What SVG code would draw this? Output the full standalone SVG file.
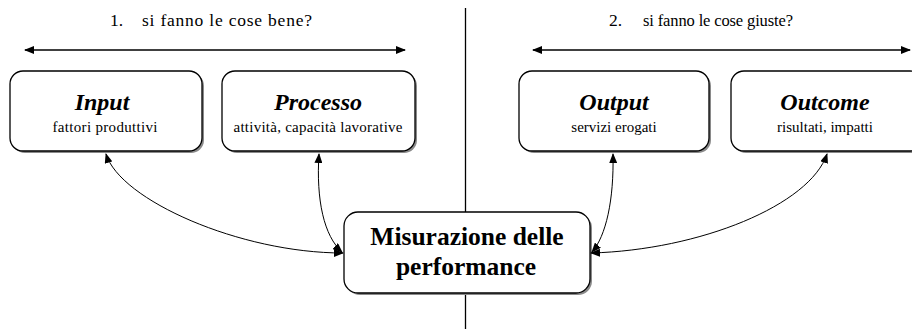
<svg xmlns="http://www.w3.org/2000/svg" width="912" height="329" viewBox="0 0 912 329">
<defs>
<style>
.box{fill:#fff;stroke:#000;stroke-width:1.3}
.shadow{fill:#8a8a8a}
.ttl{font-family:"Liberation Serif",serif;font-size:17.5px;fill:#000}
.head{font-family:"Liberation Serif",serif;font-size:24px;font-weight:bold;font-style:italic;text-anchor:middle;fill:#000}
.sub{font-family:"Liberation Serif",serif;font-size:15px;text-anchor:middle;fill:#000}
.main{font-family:"Liberation Serif",serif;font-size:25.5px;font-weight:bold;text-anchor:middle;fill:#000}
.conn{fill:none;stroke:#000;stroke-width:1}
.bar{fill:none;stroke:#000;stroke-width:1.3}
</style>
<marker id="ah" viewBox="0 0 10 8" refX="9" refY="4" markerWidth="10" markerHeight="8" markerUnits="userSpaceOnUse" orient="auto-start-reverse">
<path d="M0,0 L10,4 L0,8 Z" fill="#000"/>
</marker>
</defs>
<rect width="912" height="329" fill="#fff"/>
<g id="divider">
<line x1="465.5" y1="8" x2="465.5" y2="329" stroke="#000" stroke-width="1.3"/>
</g>
<g id="titles">
<text class="ttl" x="110" y="26">1.</text>
<text class="ttl" x="142" y="26" textLength="170">si fanno le cose bene?</text>
<text class="ttl" x="609" y="26">2.</text>
<text class="ttl" x="643" y="26" style="font-size:16.5px" textLength="150">si fanno le cose giuste?</text>
</g>
<g id="ranges">
<line class="bar" x1="25" y1="50" x2="405" y2="50" marker-start="url(#ah)" marker-end="url(#ah)"/>
<line class="bar" x1="533" y1="50" x2="910" y2="50" marker-start="url(#ah)" marker-end="url(#ah)"/>
</g>
<g id="input">
<rect class="shadow" x="12" y="73" width="192" height="80" rx="13"/>
<rect class="box" x="10" y="71" width="192" height="80" rx="13"/>
<text class="head" x="102" y="110">Input</text>
<text class="sub" x="105" y="132" textLength="105">fattori produttivi</text>
</g>
<g id="processo">
<rect class="shadow" x="224" y="73" width="193" height="80" rx="13"/>
<rect class="box" x="222" y="71" width="193" height="80" rx="13"/>
<text class="head" x="318" y="110">Processo</text>
<text class="sub" x="318" y="132" textLength="169">attività, capacità lavorative</text>
</g>
<g id="output">
<rect class="shadow" x="521" y="73" width="190" height="80" rx="13"/>
<rect class="box" x="519" y="71" width="190" height="80" rx="13"/>
<text class="head" x="614" y="110">Output</text>
<text class="sub" x="614" y="132">servizi erogati</text>
</g>
<g id="outcome">
<rect class="shadow" x="733" y="73" width="192" height="80" rx="13"/>
<rect class="box" x="731" y="71" width="192" height="80" rx="13"/>
<text class="head" x="825" y="110">Outcome</text>
<text class="sub" x="825" y="132">risultati, impatti</text>
</g>
<g id="misurazione">
<rect class="shadow" x="346" y="214" width="246" height="81" rx="14"/>
<rect class="box" x="344" y="212" width="246" height="81" rx="14"/>
<text class="main" x="467" y="245">Misurazione delle</text>
<text class="main" x="466" y="275">performance</text>
</g>
<g id="connectors">
<path class="conn" d="M106,154 C120,200 240,253 343,253" marker-start="url(#ah)" marker-end="url(#ah)"/>
<path class="conn" d="M319,154 C316,200 324,236 342,252" marker-start="url(#ah)" marker-end="url(#ah)"/>
<path class="conn" d="M613,154 C614,200 606,236 592,252" marker-start="url(#ah)" marker-end="url(#ah)"/>
<path class="conn" d="M827,154 C810,205 700,250 591,253" marker-start="url(#ah)" marker-end="url(#ah)"/>
</g>
</svg>
